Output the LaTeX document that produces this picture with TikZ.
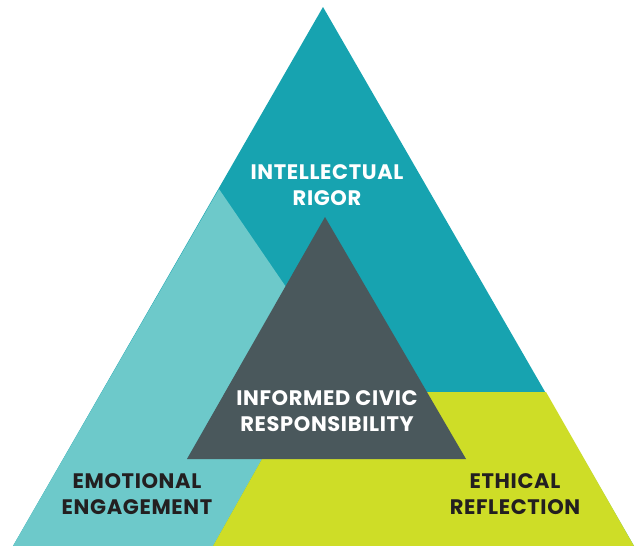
\documentclass[tikz,border=0pt]{standalone}
\usepackage{fontspec}
\newfontfamily\labfont{Poppins}[LetterSpace=3]
\definecolor{darkteal}{HTML}{17A3B0}
\definecolor{lightteal}{HTML}{6DC9CA}
\definecolor{lime}{HTML}{CEDD27}
\definecolor{slate}{HTML}{4A585C}
\definecolor{ink}{HTML}{231F20}
\begin{document}
\begin{tikzpicture}[x=1pt,y=-1pt,
  lab/.style={font=\labfont\bfseries\fontsize{21}{25.5}\selectfont,align=center,inner sep=0pt}]
\useasboundingbox (0,0) rectangle (638,546);
% outer triangle corners
\coordinate (A) at (323,7);
\coordinate (BL) at (13,546);
\coordinate (BR) at (634,546);
% inner triangle
\coordinate (IA) at (325,217);
\coordinate (IL) at (187,459);
\coordinate (IR) at (466,459);
% region split points
\coordinate (P1) at (219,189);
\coordinate (P2) at (286,287);
\coordinate (Q1) at (546,392);
\coordinate (Q2) at (425,392);
\coordinate (R1) at (262,459);
\coordinate (R2) at (213,546);
% top region (whole triangle first)
\fill[darkteal] (A) -- (BR) -- (BL) -- cycle;
% left region
\fill[lightteal] (P1) -- (P2) -- (IL) -- (R1) -- (R2) -- (BL) -- cycle;
% right region
\fill[lime] (Q1) -- (Q2) -- (IR) -- (R1) -- (R2) -- (BR) -- cycle;
% inner triangle
\fill[slate] (IA) -- (IR) -- (IL) -- cycle;
% labels
\node[lab,text=white] (top) at (327,185) {INTELLECTUAL\\RIGOR};
\node[lab,text=white] (mid) at (327,411) {INFORMED CIVIC\\RESPONSIBILITY};
\node[lab,text=ink] (left) at (137,494) {EMOTIONAL\\ENGAGEMENT};
\node[lab,text=ink] (right) at (515,494) {ETHICAL\\REFLECTION};
\end{tikzpicture}
\end{document}
